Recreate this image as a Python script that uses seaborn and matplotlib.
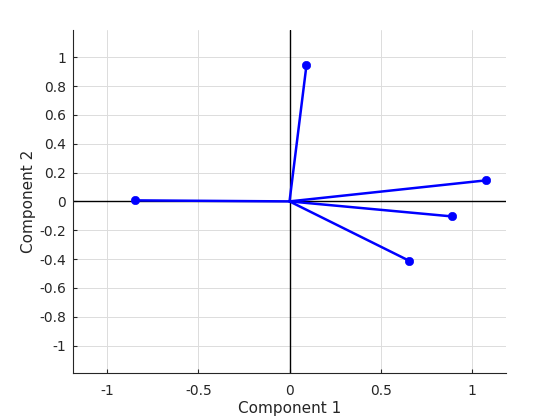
import numpy as np
import pandas as pd
import seaborn as sns
from matplotlib import pyplot as plt

# biplot loadings (component 1, component 2)
comp1 = [0.093, 1.080, 0.890, 0.654, -0.846]
comp2 = [0.944, 0.146, -0.104, -0.410, 0.007]
x_ticks = [-1, -0.5, 0, 0.5, 1]
y_ticks = [-1, -0.8, -0.6, -0.4, -0.2, 0, 0.2, 0.4, 0.6, 0.8, 1]

rows = []
for i, (c1, c2) in enumerate(zip(comp1, comp2)):
    rows.append({"vec": i, "step": 0, "Component 1": 0.0, "Component 2": 0.0})
    rows.append({"vec": i, "step": 1, "Component 1": c1, "Component 2": c2})
df = pd.DataFrame(rows)
tips = df[df["step"] == 1]

sns.set_style("white")
plt.rcParams["font.family"] = ["DejaVu Sans"]

fig = plt.figure(figsize=(5.6, 4.2), dpi=100)
ax = fig.add_axes([0.13, 0.112, 0.774, 0.817])

ax.axhline(0, color="k", lw=1, zorder=1)
ax.axvline(0, color="k", lw=1, zorder=1)

sns.lineplot(data=df, x="Component 1", y="Component 2", units="vec", estimator=None,
             sort=False, color="#0000ff", lw=1.8, ax=ax, zorder=3)
sns.scatterplot(data=tips, x="Component 1", y="Component 2", color="#0000ff",
                s=36, edgecolor="#0000ff", ax=ax, zorder=4)

ax.set_xlim(-1.19, 1.19)
ax.set_ylim(-1.19, 1.19)
ax.set_xticks(x_ticks)
ax.set_xticklabels(["-1", "-0.5", "0", "0.5", "1"])
ax.set_yticks(y_ticks)
ax.set_yticklabels(["-1", "-0.8", "-0.6", "-0.4", "-0.2", "0", "0.2", "0.4", "0.6", "0.8", "1"])
ax.grid(True, color="#dcdcdc", lw=0.7)
ax.set_axisbelow(True)
ax.tick_params(direction="in", length=3, width=0.8, labelsize=10, colors="#262626",
               bottom=True, left=True)
ax.tick_params(axis="x", pad=8)
ax.tick_params(axis="y", pad=5)
for s in ["top", "right"]:
    ax.spines[s].set_visible(False)
for s in ["left", "bottom"]:
    ax.spines[s].set_color("#262626")
    ax.spines[s].set_linewidth(0.8)
ax.set_xlabel("Component 1", fontsize=11, color="#262626", labelpad=2)
ax.set_ylabel("Component 2", fontsize=11, color="#262626", labelpad=2)

fig.savefig("out.png", dpi=100)
